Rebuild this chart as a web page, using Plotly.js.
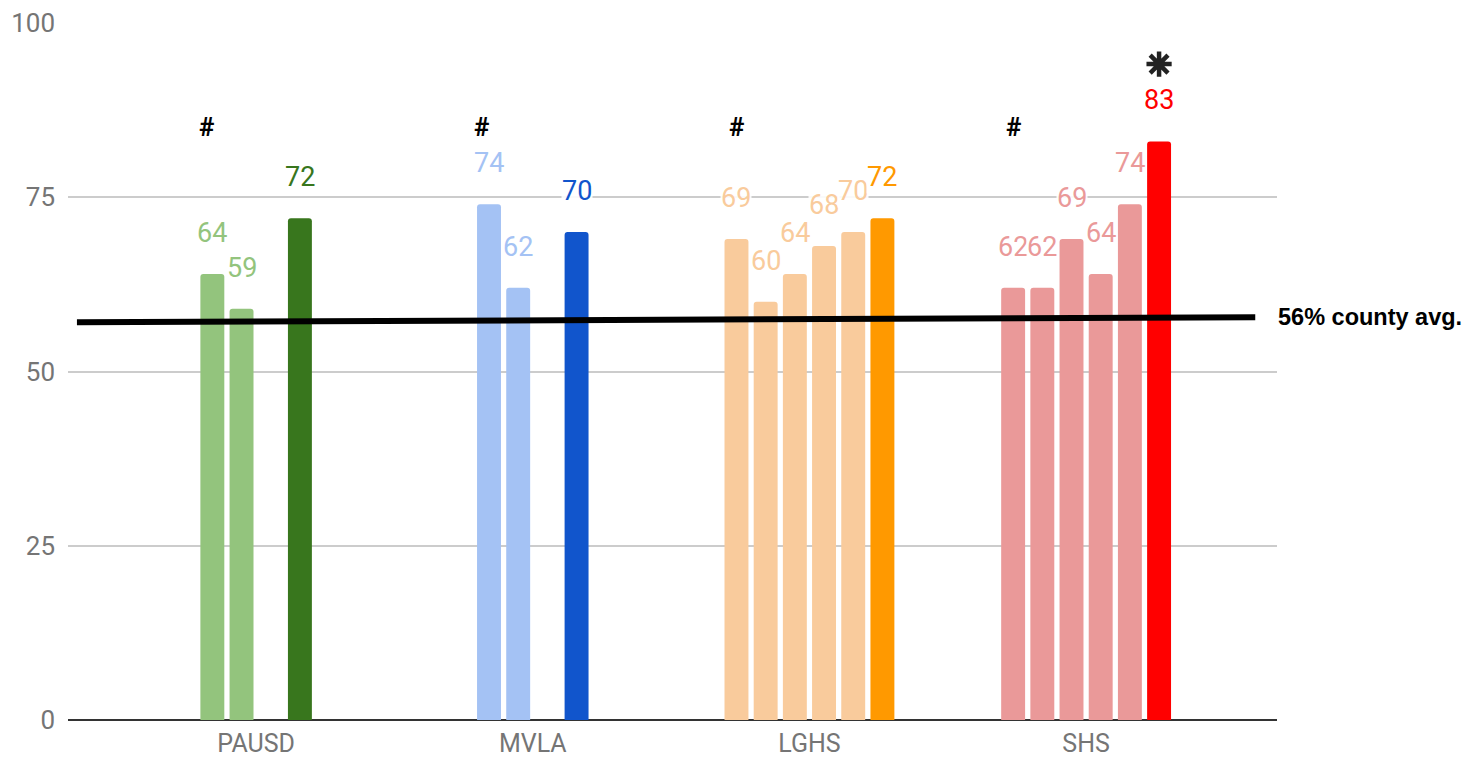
<!DOCTYPE html>
<html>
<head>
<meta charset="utf-8">
<script src="https://cdn.plot.ly/plotly-3.0.1.min.js"></script>
<style>html,body{margin:0;padding:0;background:#fff;}#chart{width:1464px;height:759px;}</style>
</head>
<body>
<div id="chart"></div>
<script>
// ---- data ----
const categories = ["PAUSD", "MVLA", "LGHS", "SHS"];
// six bar slots per school (null = no bar in that slot)
const slot1 = [null, null, 69, 62];
const slot2 = [64, 74, 60, 62];
const slot3 = [59, 62, 64, 69];
const slot4 = [null, null, 68, 64];
const slot5 = [72, 70, 70, 74];
const slot6 = [null, null, 72, 83];
const countyAvgLabel = "56% county avg.";
const countyLine = [57.06, 57.78];   // drawn level at left / right end
const hashMarks = ["#", "#", "#", "#"];
const starLevel = [94.1];            // asterisk above SHS top bar

// ---- styles ----
const lightColors = ["#93c47d", "#a4c2f4", "#f9cb9c", "#ea9999"];
const darkColors  = ["#38761d", "#1155cc", "#ff9900", "#ff0000"];
const darkSlot    = [4, 4, 5, 5]; // slot index (0-based) holding the highlighted bar

const slots = [slot1, slot2, slot3, slot4, slot5, slot6];
const bargap = 0.367;
const nSlots = slots.length;
const slotW = (1 - bargap) / nSlots;
const xRange = [-0.68, 3.69];

function colorFor(g, s) { return s === darkSlot[g] ? darkColors[g] : lightColors[g]; }
function slotX(g, s) { return g + (s - (nSlots - 1) / 2) * slotW; }

const traces = slots.map((vals, s) => ({
  type: "bar",
  x: categories,
  y: vals,
  marker: { color: categories.map((c, g) => colorFor(g, s)) },
  hoverinfo: "x+y",
  showlegend: false
}));

// asterisk marker on an overlaid numeric axis matched to the category axis
traces.push({
  type: "scatter", mode: "markers",
  x: [slotX(3, darkSlot[3])], y: starLevel,
  xaxis: "x2",
  marker: { symbol: "asterisk-open", size: 21, color: "#222", line: { color: "#222", width: 4.5 } },
  hoverinfo: "skip", showlegend: false
});

const annotations = [];
slots.forEach((vals, s) => {
  vals.forEach((v, g) => {
    if (v === null) return;
    annotations.push({
      x: slotX(g, s), y: v, xref: "x", yref: "y",
      text: String(v), showarrow: false,
      yanchor: "middle", yshift: 41,
      font: { family: "Roboto", size: 27, color: colorFor(g, s) },
      bgcolor: "rgba(255,255,255,0.9)", borderpad: 0
    });
  });
});
// "#" marks
const hashOffsets = [-0.181, -0.184, -0.264, -0.264];
hashMarks.forEach((t, g) => {
  annotations.push({
    x: g + hashOffsets[g], y: 85.1, xref: "x", yref: "y",
    text: "<b>" + t + "</b>", showarrow: false, yanchor: "middle",
    font: { family: "Roboto", size: 26, color: "#000" }
  });
});
// county avg label
annotations.push({
  x: 1, y: countyLine[1], xref: "paper", yref: "y",
  xanchor: "left", yanchor: "middle", xshift: -1,
  text: "<b>" + countyAvgLabel + "</b>", showarrow: false,
  font: { family: "Liberation Sans, Arial", size: 23.5, color: "#000" }
});

const layout = {
  width: 1464, height: 759,
  margin: { l: 68, r: 187, t: 23, b: 39 },
  paper_bgcolor: "#fff", plot_bgcolor: "#fff",
  barmode: "group", bargap: bargap, bargroupgap: 0.18,
  barcornerradius: 3,
  showlegend: false,
  xaxis: {
    type: "category", range: xRange,
    showgrid: false, zeroline: false, showline: false,
    ticks: "", ticklabelstandoff: 6,
    tickfont: { family: "Roboto", size: 25, color: "#757575" }
  },
  xaxis2: {
    type: "linear", range: xRange, overlaying: "x",
    visible: false, showgrid: false, zeroline: false
  },
  yaxis: {
    range: [0, 100], tickvals: [0, 25, 50, 75, 100],
    showgrid: true, gridcolor: "#cccccc", gridwidth: 2,
    zeroline: true, zerolinecolor: "#333333", zerolinewidth: 2,
    showline: false, ticks: "", ticklabelstandoff: 12,
    tickfont: { family: "Roboto", size: 26, color: "#757575" }
  },
  shapes: [{
    type: "line", xref: "paper", yref: "y",
    x0: 0.0074, x1: 0.982, y0: countyLine[0], y1: countyLine[1],
    line: { color: "#000", width: 6 }, layer: "above"
  }],
  annotations: annotations
};

Plotly.newPlot("chart", traces, layout, { displayModeBar: false, staticPlot: true });
</script>
</body>
</html>
